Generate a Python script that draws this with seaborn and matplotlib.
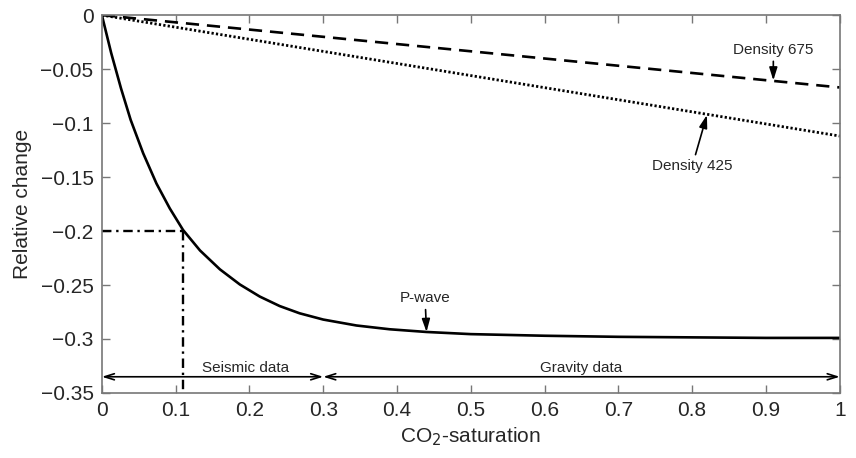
import numpy as np
import pandas as pd
import matplotlib
matplotlib.use("Agg")
import matplotlib.pyplot as plt
import seaborn as sns

# CO2 saturation sample points and relative P-wave change
sat_pwave = [0.0, 0.0126, 0.026, 0.039, 0.056, 0.074, 0.092, 0.110, 0.133, 0.160,
             0.187, 0.214, 0.241, 0.268, 0.300, 0.345, 0.390, 0.440, 0.500,
             0.600, 0.700, 0.800, 0.900, 1.000]
pwave = [0.0, -0.035, -0.068, -0.097, -0.128, -0.156, -0.179, -0.199, -0.218,
         -0.2355, -0.2495, -0.2607, -0.2695, -0.2762, -0.2820, -0.2875, -0.2910,
         -0.2935, -0.2955, -0.2970, -0.2980, -0.2985, -0.2990, -0.2990]

# relative density change (two reservoir depths)
sat_density = [0.0, 1.0]
density_675 = [0.0, -0.067]
density_425 = [0.0, -0.112]

# threshold read-off for the seismic detection limit
sat_limit = 0.11
pwave_limit = -0.2

# data coverage ranges
seismic_range = [0.0, 0.3]
gravity_range = [0.3, 1.0]

x_ticks = [0, 0.1, 0.2, 0.3, 0.4, 0.5, 0.6, 0.7, 0.8, 0.9, 1]
x_tick_labels = ["0", "0.1", "0.2", "0.3", "0.4", "0.5", "0.6", "0.7", "0.8", "0.9", "1"]
y_ticks = [0, -0.05, -0.1, -0.15, -0.2, -0.25, -0.3, -0.35]
y_tick_labels = ["0", "\u22120.05", "\u22120.1", "\u22120.15", "\u22120.2",
                 "\u22120.25", "\u22120.3", "\u22120.35"]

sns.set_style("ticks")
plt.rcParams["font.family"] = ["Liberation Sans", "DejaVu Sans"]

fig = plt.figure(figsize=(8.56, 4.58), dpi=100)
ax = fig.add_axes([0.119, 0.142, 0.862, 0.825])

df_p = pd.DataFrame({"sat": sat_pwave, "val": pwave})
df_675 = pd.DataFrame({"sat": sat_density, "val": density_675})
df_425 = pd.DataFrame({"sat": sat_density, "val": density_425})

sns.lineplot(data=df_p, x="sat", y="val", ax=ax, color="black", lw=1.9,
             estimator=None, sort=False)
sns.lineplot(data=df_675, x="sat", y="val", ax=ax, color="black", lw=1.9,
             estimator=None)
ax.lines[-1].set_dashes((5, 3))
sns.lineplot(data=df_425, x="sat", y="val", ax=ax, color="black", lw=2.0,
             estimator=None)
ax.lines[-1].set_dashes((0.8, 0.8))

# detection limit guide lines
ax.plot([0, sat_limit], [pwave_limit, pwave_limit], color="black", lw=1.7,
        dashes=(4, 2, 1, 2))
ax.plot([sat_limit, sat_limit], [pwave_limit, -0.35], color="black", lw=1.7,
        dashes=(4, 2, 1, 2))

# data coverage arrows
arrow_y = -0.335
arr = dict(arrowstyle="<->,head_length=0.7,head_width=0.22", color="black", lw=1.2,
           shrinkA=0, shrinkB=0)
ax.annotate("", xy=(seismic_range[0], arrow_y), xytext=(seismic_range[1], arrow_y),
            arrowprops=arr)
ax.annotate("", xy=(gravity_range[0], arrow_y), xytext=(gravity_range[1], arrow_y),
            arrowprops=arr)
ax.text(0.195, -0.3265, "Seismic data", ha="center", va="center", fontsize=11)
ax.text(0.65, -0.3265, "Gravity data", ha="center", va="center", fontsize=11)

# curve labels
lab_arr = dict(arrowstyle="-|>,head_length=0.7,head_width=0.22", color="black",
               lw=1.2, shrinkA=1, shrinkB=0)
ax.annotate("P-wave", xy=(0.44, -0.2935), xytext=(0.438, -0.262), ha="center",
            va="center", fontsize=11, arrowprops=lab_arr)
ax.annotate("Density 675", xy=(0.91, -0.0605), xytext=(0.91, -0.032), ha="center",
            va="center", fontsize=11, arrowprops=lab_arr)
ax.annotate("Density 425", xy=(0.82, -0.0925), xytext=(0.80, -0.140), ha="center",
            va="center", fontsize=11, arrowprops=lab_arr)

ax.set_xlim(0, 1)
ax.set_ylim(-0.35, 0)
ax.set_xticks(x_ticks)
ax.set_xticklabels(x_tick_labels)
ax.set_yticks(y_ticks)
ax.set_yticklabels(y_tick_labels)
ax.set_xlabel("CO$_2$-saturation", fontsize=15, labelpad=4)
ax.set_ylabel("Relative change", fontsize=15, labelpad=6)

ax.tick_params(axis="both", direction="in", length=6, width=1, color="#777777",
               labelsize=15, top=True, right=True, pad=6)
for s in ax.spines.values():
    s.set_visible(True)
    s.set_color("#777777")
    s.set_linewidth(1.2)

fig.savefig("out.png", dpi=100, facecolor="white")
